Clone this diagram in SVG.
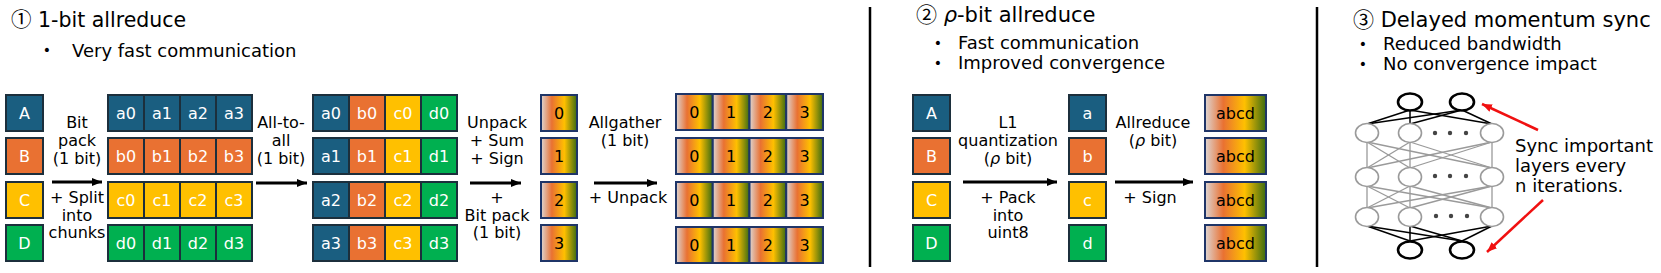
<svg xmlns="http://www.w3.org/2000/svg" width="1661" height="273" viewBox="0 0 1661 273">
<style>
text{font-family:"DejaVu Sans","Noto Sans CJK JP",sans-serif;}
.t{font-size:21px;fill:#000;}
.cn{font-family:"Noto Sans CJK JP",sans-serif;}
.b{font-size:18px;fill:#000;}
.bd{font-size:14px;fill:#000;text-anchor:middle;}
.l{font-size:16px;fill:#000;text-anchor:middle;}
.c{font-size:16px;fill:#fff;text-anchor:middle;}
.g{font-size:16px;fill:#000;text-anchor:middle;}
.blue{fill:#1a5e80;stroke:#1c2f3c;stroke-width:2;}
.orange{fill:#e97132;stroke:#1c2f3c;stroke-width:2;}
.yellow{fill:#ffc000;stroke:#1c2f3c;stroke-width:2;}
.green{fill:#00b050;stroke:#1c2f3c;stroke-width:2;}
.grad{fill:url(#gr);stroke:#1f3568;stroke-width:2;}
.arr{stroke:#000;stroke-width:3;fill:none;marker-end:url(#ah);}
.red{stroke:#f01010;stroke-width:2.5;fill:none;marker-end:url(#rh);}
.div{stroke:#000;stroke-width:2.5;}
.gl{stroke:#9a9a9a;stroke-width:1.3;}
.kl{stroke:#000;stroke-width:1.5;}
.gc{fill:#fff;stroke:#9a9a9a;stroke-width:1.6;}
.kc{fill:#fff;stroke:#000;stroke-width:2.6;}
.dot{fill:#444;}
.it{font-style:italic;}
</style>
<defs>
<linearGradient id="gr" x1="0" y1="0" x2="1" y2="0">
<stop offset="0" stop-color="#ddd6d4"/>
<stop offset="0.3" stop-color="#e97132"/>
<stop offset="0.65" stop-color="#ffc000"/>
<stop offset="1" stop-color="#3a6b12"/>
</linearGradient>
<marker id="ah" markerUnits="userSpaceOnUse" markerWidth="12" markerHeight="10" refX="10" refY="5" orient="auto">
<path d="M0,1 L10,5 L0,9 Z" fill="#000"/>
</marker>
<marker id="rh" markerUnits="userSpaceOnUse" markerWidth="12" markerHeight="10" refX="10" refY="5" orient="auto">
<path d="M0,1 L10,5 L0,9 Z" fill="#f01010"/>
</marker>
</defs>
<rect width="1661" height="273" fill="#fff"/>

<!-- Headings -->
<g id="section1-title">
<text class="t" x="11" y="27" style="font-size:20.5px"><tspan class="cn">①</tspan> 1-bit allreduce</text>
<text class="bd" x="47" y="55">•</text>
<text class="b" x="72" y="57">Very fast communication</text>
</g>
<g id="section2-title">
<text class="t" x="916" y="22"><tspan class="cn">②</tspan> <tspan class="it">ρ</tspan>-bit allreduce</text>
<text class="bd" x="938" y="48">•</text>
<text class="b" x="958" y="49">Fast communication</text>
<text class="bd" x="938" y="68">•</text>
<text class="b" x="958" y="69">Improved convergence</text>
</g>
<g id="section3-title">
<text class="t" x="1353" y="27"><tspan class="cn">③</tspan> Delayed momentum sync</text>
<text class="bd" x="1363" y="49">•</text>
<text class="b" x="1383" y="50">Reduced bandwidth</text>
<text class="bd" x="1363" y="69">•</text>
<text class="b" x="1383" y="70">No convergence impact</text>
</g>
<g id="dividers">
<line class="div" x1="870" y1="7" x2="870" y2="267"/>
<line class="div" x1="1317" y1="7" x2="1317" y2="267"/>
</g>

<!-- Section 1 inputs -->
<g id="inputs1">
<rect class="blue" x="6" y="95" width="37" height="36"/><text class="c" x="24.5" y="118.5">A</text>
<rect class="orange" x="6" y="138" width="37" height="36"/><text class="c" x="24.5" y="161.5">B</text>
<rect class="yellow" x="6" y="182" width="37" height="36"/><text class="c" x="24.5" y="205.5">C</text>
<rect class="green" x="6" y="225" width="37" height="36"/><text class="c" x="24.5" y="248.5">D</text>
</g>

<g id="chunks">
<rect class="blue" x="108" y="95" width="36" height="36"/><text class="c" x="126" y="118.5">a0</text>
<rect class="blue" x="144" y="95" width="36" height="36"/><text class="c" x="162" y="118.5">a1</text>
<rect class="blue" x="180" y="95" width="36" height="36"/><text class="c" x="198" y="118.5">a2</text>
<rect class="blue" x="216" y="95" width="36" height="36"/><text class="c" x="234" y="118.5">a3</text>
<rect class="orange" x="108" y="138" width="36" height="36"/><text class="c" x="126" y="161.5">b0</text>
<rect class="orange" x="144" y="138" width="36" height="36"/><text class="c" x="162" y="161.5">b1</text>
<rect class="orange" x="180" y="138" width="36" height="36"/><text class="c" x="198" y="161.5">b2</text>
<rect class="orange" x="216" y="138" width="36" height="36"/><text class="c" x="234" y="161.5">b3</text>
<rect class="yellow" x="108" y="182" width="36" height="36"/><text class="c" x="126" y="205.5">c0</text>
<rect class="yellow" x="144" y="182" width="36" height="36"/><text class="c" x="162" y="205.5">c1</text>
<rect class="yellow" x="180" y="182" width="36" height="36"/><text class="c" x="198" y="205.5">c2</text>
<rect class="yellow" x="216" y="182" width="36" height="36"/><text class="c" x="234" y="205.5">c3</text>
<rect class="green" x="108" y="225" width="36" height="36"/><text class="c" x="126" y="248.5">d0</text>
<rect class="green" x="144" y="225" width="36" height="36"/><text class="c" x="162" y="248.5">d1</text>
<rect class="green" x="180" y="225" width="36" height="36"/><text class="c" x="198" y="248.5">d2</text>
<rect class="green" x="216" y="225" width="36" height="36"/><text class="c" x="234" y="248.5">d3</text>
</g>

<g id="alltoall">
<rect class="blue" x="313" y="95" width="36" height="36"/><text class="c" x="331" y="118.5">a0</text>
<rect class="orange" x="349" y="95" width="36" height="36"/><text class="c" x="367" y="118.5">b0</text>
<rect class="yellow" x="385" y="95" width="36" height="36"/><text class="c" x="403" y="118.5">c0</text>
<rect class="green" x="421" y="95" width="36" height="36"/><text class="c" x="439" y="118.5">d0</text>
<rect class="blue" x="313" y="138" width="36" height="36"/><text class="c" x="331" y="161.5">a1</text>
<rect class="orange" x="349" y="138" width="36" height="36"/><text class="c" x="367" y="161.5">b1</text>
<rect class="yellow" x="385" y="138" width="36" height="36"/><text class="c" x="403" y="161.5">c1</text>
<rect class="green" x="421" y="138" width="36" height="36"/><text class="c" x="439" y="161.5">d1</text>
<rect class="blue" x="313" y="182" width="36" height="36"/><text class="c" x="331" y="205.5">a2</text>
<rect class="orange" x="349" y="182" width="36" height="36"/><text class="c" x="367" y="205.5">b2</text>
<rect class="yellow" x="385" y="182" width="36" height="36"/><text class="c" x="403" y="205.5">c2</text>
<rect class="green" x="421" y="182" width="36" height="36"/><text class="c" x="439" y="205.5">d2</text>
<rect class="blue" x="313" y="225" width="36" height="36"/><text class="c" x="331" y="248.5">a3</text>
<rect class="orange" x="349" y="225" width="36" height="36"/><text class="c" x="367" y="248.5">b3</text>
<rect class="yellow" x="385" y="225" width="36" height="36"/><text class="c" x="403" y="248.5">c3</text>
<rect class="green" x="421" y="225" width="36" height="36"/><text class="c" x="439" y="248.5">d3</text>
</g>

<g id="reduced">
<rect class="grad" x="541" y="95" width="36" height="36"/><text class="g" x="559" y="118.5">0</text>
<rect class="grad" x="541" y="138" width="36" height="36"/><text class="g" x="559" y="161.5">1</text>
<rect class="grad" x="541" y="182" width="36" height="36"/><text class="g" x="559" y="205.5">2</text>
<rect class="grad" x="541" y="225" width="36" height="36"/><text class="g" x="559" y="248.5">3</text>
</g>

<g id="gathered">
<rect class="grad" x="676" y="94" width="36.75" height="36"/><text class="g" x="694.4" y="117.5">0</text>
<rect class="grad" x="712.75" y="94" width="36.75" height="36"/><text class="g" x="731.1" y="117.5">1</text>
<rect class="grad" x="749.5" y="94" width="36.75" height="36"/><text class="g" x="767.9" y="117.5">2</text>
<rect class="grad" x="786.25" y="94" width="36.75" height="36"/><text class="g" x="804.6" y="117.5">3</text>
<rect class="grad" x="676" y="138" width="36.75" height="36"/><text class="g" x="694.4" y="161.5">0</text>
<rect class="grad" x="712.75" y="138" width="36.75" height="36"/><text class="g" x="731.1" y="161.5">1</text>
<rect class="grad" x="749.5" y="138" width="36.75" height="36"/><text class="g" x="767.9" y="161.5">2</text>
<rect class="grad" x="786.25" y="138" width="36.75" height="36"/><text class="g" x="804.6" y="161.5">3</text>
<rect class="grad" x="676" y="182" width="36.75" height="36"/><text class="g" x="694.4" y="205.5">0</text>
<rect class="grad" x="712.75" y="182" width="36.75" height="36"/><text class="g" x="731.1" y="205.5">1</text>
<rect class="grad" x="749.5" y="182" width="36.75" height="36"/><text class="g" x="767.9" y="205.5">2</text>
<rect class="grad" x="786.25" y="182" width="36.75" height="36"/><text class="g" x="804.6" y="205.5">3</text>
<rect class="grad" x="676" y="227" width="36.75" height="36"/><text class="g" x="694.4" y="250.5">0</text>
<rect class="grad" x="712.75" y="227" width="36.75" height="36"/><text class="g" x="731.1" y="250.5">1</text>
<rect class="grad" x="749.5" y="227" width="36.75" height="36"/><text class="g" x="767.9" y="250.5">2</text>
<rect class="grad" x="786.25" y="227" width="36.75" height="36"/><text class="g" x="804.6" y="250.5">3</text>
</g>

<!-- Section 2 -->
<g id="inputs2">
<rect class="blue" x="913" y="95" width="37" height="36"/><text class="c" x="931.5" y="118.5">A</text>
<rect class="orange" x="913" y="138" width="37" height="36"/><text class="c" x="931.5" y="161.5">B</text>
<rect class="yellow" x="913" y="182" width="37" height="36"/><text class="c" x="931.5" y="205.5">C</text>
<rect class="green" x="913" y="225" width="37" height="36"/><text class="c" x="931.5" y="248.5">D</text>
</g>
<g id="quantized">
<rect class="blue" x="1069" y="95" width="37" height="36"/><text class="c" x="1087.5" y="118.5">a</text>
<rect class="orange" x="1069" y="138" width="37" height="36"/><text class="c" x="1087.5" y="161.5">b</text>
<rect class="yellow" x="1069" y="182" width="37" height="36"/><text class="c" x="1087.5" y="205.5">c</text>
<rect class="green" x="1069" y="225" width="37" height="36"/><text class="c" x="1087.5" y="248.5">d</text>
</g>
<g id="allreduced">
<rect class="grad" x="1205" y="95" width="61" height="36"/><text class="g" x="1235.5" y="118.5">abcd</text>
<rect class="grad" x="1205" y="138" width="61" height="36"/><text class="g" x="1235.5" y="161.5">abcd</text>
<rect class="grad" x="1205" y="182" width="61" height="36"/><text class="g" x="1235.5" y="205.5">abcd</text>
<rect class="grad" x="1205" y="225" width="61" height="36"/><text class="g" x="1235.5" y="248.5">abcd</text>
</g>

<!-- Section 3 network -->
<g id="network">
<g id="net-lines">
<line class="kl" x1="1410" y1="110" x2="1367" y2="124"/>
<line class="kl" x1="1410" y1="110" x2="1410" y2="124"/>
<line class="kl" x1="1410" y1="110" x2="1492" y2="124"/>
<line class="kl" x1="1462" y1="110" x2="1367" y2="124"/>
<line class="kl" x1="1462" y1="110" x2="1410" y2="124"/>
<line class="kl" x1="1462" y1="110" x2="1492" y2="124"/>
<line class="gl" x1="1367" y1="142" x2="1367" y2="168"/>
<line class="gl" x1="1367" y1="142" x2="1410" y2="168"/>
<line class="gl" x1="1367" y1="142" x2="1492" y2="168"/>
<line class="gl" x1="1410" y1="142" x2="1367" y2="168"/>
<line class="gl" x1="1410" y1="142" x2="1410" y2="168"/>
<line class="gl" x1="1410" y1="142" x2="1492" y2="168"/>
<line class="gl" x1="1492" y1="142" x2="1367" y2="168"/>
<line class="gl" x1="1492" y1="142" x2="1410" y2="168"/>
<line class="gl" x1="1492" y1="142" x2="1492" y2="168"/>
<line class="gl" x1="1367" y1="186" x2="1367" y2="208"/>
<line class="gl" x1="1367" y1="186" x2="1410" y2="208"/>
<line class="gl" x1="1367" y1="186" x2="1492" y2="208"/>
<line class="gl" x1="1410" y1="186" x2="1367" y2="208"/>
<line class="gl" x1="1410" y1="186" x2="1410" y2="208"/>
<line class="gl" x1="1410" y1="186" x2="1492" y2="208"/>
<line class="gl" x1="1492" y1="186" x2="1367" y2="208"/>
<line class="gl" x1="1492" y1="186" x2="1410" y2="208"/>
<line class="gl" x1="1492" y1="186" x2="1492" y2="208"/>
<line class="kl" x1="1367" y1="226" x2="1410" y2="241"/>
<line class="kl" x1="1410" y1="226" x2="1410" y2="241"/>
<line class="kl" x1="1492" y1="226" x2="1410" y2="241"/>
<line class="kl" x1="1367" y1="226" x2="1462" y2="241"/>
<line class="kl" x1="1410" y1="226" x2="1462" y2="241"/>
<line class="kl" x1="1492" y1="226" x2="1462" y2="241"/>
</g>
<ellipse class="kc" cx="1410" cy="102" rx="12" ry="8.5"/>
<ellipse class="kc" cx="1462" cy="102" rx="12" ry="8.5"/>
<ellipse class="gc" cx="1367" cy="133" rx="11.5" ry="9.5"/>
<ellipse class="gc" cx="1410" cy="133" rx="11.5" ry="9.5"/>
<ellipse class="gc" cx="1492" cy="133" rx="11.5" ry="9.5"/>
<ellipse class="gc" cx="1367" cy="177" rx="11.5" ry="9.5"/>
<ellipse class="gc" cx="1410" cy="177" rx="11.5" ry="9.5"/>
<ellipse class="gc" cx="1492" cy="177" rx="11.5" ry="9.5"/>
<ellipse class="gc" cx="1367" cy="217" rx="11.5" ry="9.5"/>
<ellipse class="gc" cx="1410" cy="217" rx="11.5" ry="9.5"/>
<ellipse class="gc" cx="1492" cy="217" rx="11.5" ry="9.5"/>
<ellipse class="kc" cx="1410" cy="250" rx="12" ry="8.5"/>
<ellipse class="kc" cx="1462" cy="250" rx="12" ry="8.5"/>
<circle class="dot" cx="1435" cy="133" r="2.2"/><circle class="dot" cx="1450" cy="133" r="2.2"/><circle class="dot" cx="1466" cy="133" r="2.2"/>
<circle class="dot" cx="1435" cy="176" r="2.2"/><circle class="dot" cx="1450" cy="176" r="2.2"/><circle class="dot" cx="1466" cy="176" r="2.2"/>
<circle class="dot" cx="1436" cy="216" r="2.2"/><circle class="dot" cx="1451" cy="216" r="2.2"/><circle class="dot" cx="1467" cy="216" r="2.2"/>
</g>
<g id="sync-note">
<text class="b" x="1515" y="152">Sync important</text>
<text class="b" x="1515" y="172">layers every</text>
<text class="b" x="1515" y="192">n iterations.</text>
</g>

<!-- Connectors -->
<g id="connectors">
<line class="arr" x1="52" y1="182" x2="102" y2="182"/>
<line class="arr" x1="256" y1="183" x2="307" y2="183"/>
<line class="arr" x1="470" y1="183" x2="521" y2="183"/>
<line class="arr" x1="594" y1="183" x2="657" y2="183"/>
<line class="arr" x1="963" y1="182" x2="1057" y2="182"/>
<line class="arr" x1="1115" y1="182" x2="1193" y2="182"/>
<line class="red" x1="1538" y1="130" x2="1482" y2="104"/>
<line class="red" x1="1543" y1="200" x2="1487" y2="252"/>
</g>
<g id="connector-labels">
<text class="l" x="77" y="128">Bit</text>
<text class="l" x="77" y="146">pack</text>
<text class="l" x="77" y="164">(1 bit)</text>
<text class="l" x="77" y="203">+ Split</text>
<text class="l" x="77" y="221">into</text>
<text class="l" x="77" y="238">chunks</text>
<text class="l" x="281" y="128">All-to-</text>
<text class="l" x="281" y="146">all</text>
<text class="l" x="281" y="164">(1 bit)</text>
<text class="l" x="497" y="128">Unpack</text>
<text class="l" x="497" y="146">+ Sum</text>
<text class="l" x="497" y="164">+ Sign</text>
<text class="l" x="497" y="203">+</text>
<text class="l" x="497" y="221">Bit pack</text>
<text class="l" x="497" y="238">(1 bit)</text>
<text class="l" x="625" y="128">Allgather</text>
<text class="l" x="625" y="146">(1 bit)</text>
<text class="l" x="628" y="203">+ Unpack</text>
<text class="l" x="1008" y="128">L1</text>
<text class="l" x="1008" y="146">quantization</text>
<text class="l" x="1008" y="164">(<tspan class="it">ρ</tspan> bit)</text>
<text class="l" x="1008" y="203">+ Pack</text>
<text class="l" x="1008" y="221">into</text>
<text class="l" x="1008" y="238">uint8</text>
<text class="l" x="1153" y="128">Allreduce</text>
<text class="l" x="1153" y="146">(<tspan class="it">ρ</tspan> bit)</text>
<text class="l" x="1150" y="203">+ Sign</text>
</g>
</svg>
